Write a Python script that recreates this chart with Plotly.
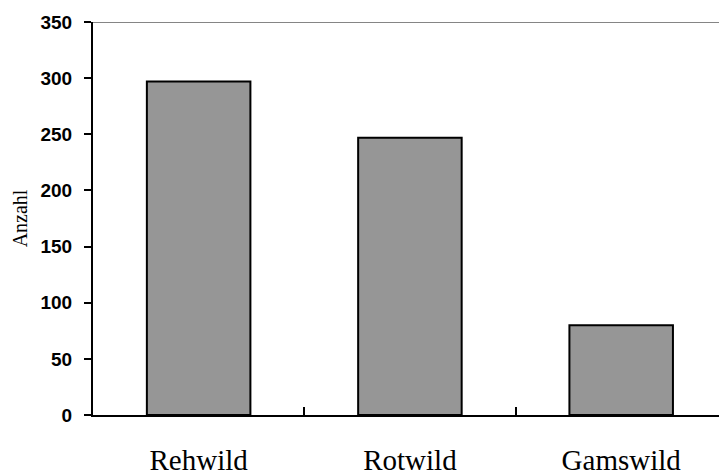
import plotly.graph_objects as go

# Wildarten und Anzahl
categories = ["Rehwild", "Rotwild", "Gamswild"]
counts = [297, 247, 80]
y_ticks = [0, 50, 100, 150, 200, 250, 300, 350]

fig = go.Figure()
fig.add_trace(go.Bar(
    x=categories,
    y=counts,
    width=0.49,
    marker=dict(color="#969696", line=dict(color="black", width=2)),
))

# upper frame line at the top of the value axis
fig.add_shape(type="line", xref="paper", yref="y", x0=0, x1=1, y0=350, y1=350,
              line=dict(color="#858585", width=2), layer="above")

fig.update_layout(
    width=719, height=476,
    margin=dict(l=93, r=0, t=22, b=61),
    paper_bgcolor="white", plot_bgcolor="white",
    showlegend=False,
    xaxis=dict(
        range=[-0.5, 2.463],
        automargin=False,
        tickson="boundaries",
        ticks="inside", ticklen=8, tickwidth=2, tickcolor="black",
        showline=True, linecolor="black", linewidth=2,
        showgrid=False,
        tickfont=dict(family="Liberation Serif, Times New Roman, serif", size=29, color="black"),
        ticklabelstandoff=18,
    ),
    yaxis=dict(
        range=[0, 350],
        automargin=False,
        tickvals=y_ticks,
        ticks="outside", ticklen=7, tickwidth=2, tickcolor="black",
        showline=True, linecolor="black", linewidth=2,
        showgrid=False, zeroline=False,
        tickfont=dict(family="Liberation Sans, Arial, sans-serif", size=19, color="black", weight="bold"),
        ticklabelstandoff=8,
        title=dict(text="Anzahl", standoff=7,
                   font=dict(family="Liberation Serif, Times New Roman, serif", size=20, color="black")),
    ),
)

fig.write_html("out.html")
